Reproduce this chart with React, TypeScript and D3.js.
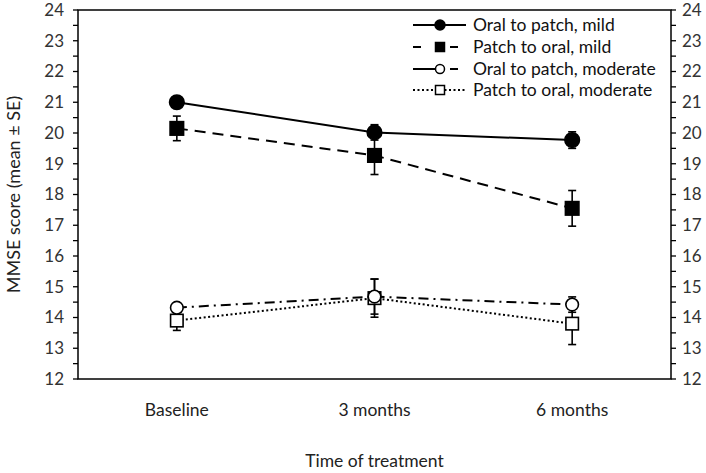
import React from "react";
import * as d3 from "d3";

const categories = ["Baseline", "3 months", "6 months"];
const seriesNames = [
  "Oral to patch, mild",
  "Patch to oral, mild",
  "Oral to patch, moderate",
  "Patch to oral, moderate",
];
const oralPatchMild = [21.0, 20.02, 19.77];
const oralPatchMildErr = [0.1, 0.25, 0.27];
const patchOralMild = [20.15, 19.27, 17.55];
const patchOralMildErr = [0.4, 0.62, 0.58];
const oralPatchMod = [14.32, 14.68, 14.42];
const oralPatchModErr = [0.1, 0.57, 0.25];
const patchOralMod = [13.9, 14.63, 13.8];
const patchOralModErr = [0.32, 0.62, 0.68];
const yTicks = [12, 13, 14, 15, 16, 17, 18, 19, 20, 21, 22, 23, 24];

const W = 706, H = 473;
const L = 78, R = 671, T = 10, B = 379;

type S = { name: string; vals: number[]; errs: number[]; dash: string; marker: "circle" | "square"; fill: string; legL: string; legR: string; rStart: number };

const series: S[] = [
  { name: seriesNames[3], vals: patchOralMod, errs: patchOralModErr, dash: "2,2.5", marker: "square", fill: "#fff", legL: "2,2.5", legR: "2,2.5", rStart: 440 },
  { name: seriesNames[2], vals: oralPatchMod, errs: oralPatchModErr, dash: "10,5,2,5", marker: "circle", fill: "#fff", legL: "", legR: "8,20", rStart: 450 },
  { name: seriesNames[1], vals: patchOralMild, errs: patchOralMildErr, dash: "11,7", marker: "square", fill: "#000", legL: "8,30", legR: "8,20", rStart: 450 },
  { name: seriesNames[0], vals: oralPatchMild, errs: oralPatchMildErr, dash: "", marker: "circle", fill: "#000", legL: "", legR: "", rStart: 440 },
];

const font = "Lato, 'Open Sans', sans-serif";

function Marker({ x, y, type, fill, big }: { x: number; y: number; type: string; fill: string; big: boolean }) {
  if (type === "circle") {
    const r = big ? 7.3 : 6.3;
    return <circle cx={x} cy={y} r={r} fill={fill} stroke="#000" strokeWidth={1.6} />;
  }
  const s = big ? 13.5 : 12.5;
  return <rect x={x - s / 2} y={y - s / 2} width={s} height={s} fill={fill} stroke="#000" strokeWidth={1.6} />;
}

export default function App() {
  const x = d3.scalePoint<string>().domain(categories).range([L, R]).padding(0.5);
  const y = d3.scaleLinear().domain([12, 24]).range([B, T]);
  const line = d3.line<number>().x((_, i) => x(categories[i])!).y((v) => y(v));
  const minor = d3.range(12.5, 24, 1);
  const legendY = [25, 47, 69, 90];
  const legendOrder = [3, 2, 1, 0];

  return (
    <svg width={W} height={H} style={{ position: "absolute", left: 0, top: 0, background: "#fff" }}>
      <rect x={L} y={T} width={R - L} height={B - T} fill="none" stroke="#000" strokeWidth={1.5} />
      {yTicks.map((t) => (
        <g key={t}>
          <line x1={L - 5} x2={L} y1={y(t)} y2={y(t)} stroke="#000" strokeWidth={1.3} />
          <line x1={R} x2={R + 5} y1={y(t)} y2={y(t)} stroke="#000" strokeWidth={1.3} />
          <text x={64} y={y(t)} dy="0.35em" textAnchor="end" fontFamily={font} fontSize={17} fill="#333">{t}</text>
          <text x={682} y={y(t)} dy="0.35em" textAnchor="start" fontFamily={font} fontSize={17} fill="#333">{t}</text>
        </g>
      ))}
      {minor.map((t) => (
        <g key={t}>
          <line x1={L - 5} x2={L} y1={y(t)} y2={y(t)} stroke="#000" strokeWidth={1.3} />
          <line x1={R} x2={R + 5} y1={y(t)} y2={y(t)} stroke="#000" strokeWidth={1.3} />
        </g>
      ))}
      {categories.map((c) => (
        <text key={c} x={x(c)} y={416} textAnchor="middle" fontFamily={font} fontSize={17.5} fill="#222">{c}</text>
      ))}
      <text x={(L + R) / 2} y={467} textAnchor="middle" fontFamily={font} fontSize={17.5} fill="#222">Time of treatment</text>
      <text transform={`translate(20,${(T + B) / 2}) rotate(-90)`} textAnchor="middle" fontFamily={font} fontSize={18} fill="#222">MMSE score (mean ± SE)</text>

      {series.map((s) => (
        <path key={s.name + "l"} d={line(s.vals)!} fill="none" stroke="#000" strokeWidth={2} strokeDasharray={s.dash} />
      ))}
      {series.map((s) => (
        <g key={s.name + "e"}>
          {s.vals.map((v, i) => {
            const cx = x(categories[i])!;
            return (
              <g key={i}>
                <line x1={cx} x2={cx} y1={y(v - s.errs[i])} y2={y(v + s.errs[i])} stroke="#000" strokeWidth={1.6} />
                <line x1={cx - 4} x2={cx + 4} y1={y(v - s.errs[i])} y2={y(v - s.errs[i])} stroke="#000" strokeWidth={1.6} />
                <line x1={cx - 4} x2={cx + 4} y1={y(v + s.errs[i])} y2={y(v + s.errs[i])} stroke="#000" strokeWidth={1.6} />
              </g>
            );
          })}
        </g>
      ))}
      {series.map((s) => (
        <g key={s.name + "m"}>
          {s.vals.map((v, i) => (
            <Marker key={i} x={x(categories[i])!} y={y(v)} type={s.marker} fill={s.fill} big={s.fill === "#000"} />
          ))}
        </g>
      ))}

      {legendOrder.map((si, k) => {
        const s = series[si];
        const ly = legendY[k];
        return (
          <g key={s.name + "leg"}>
            <line x1={413} x2={440} y1={ly} y2={ly} stroke="#000" strokeWidth={2} strokeDasharray={s.legL} />
            <line x1={s.rStart} x2={466} y1={ly} y2={ly} stroke="#000" strokeWidth={2} strokeDasharray={s.legR} />
            {s.marker === "circle" ? (
              <circle cx={440} cy={ly} r={s.fill === "#000" ? 5 : 4.5} fill={s.fill} stroke="#000" strokeWidth={1.5} />
            ) : (
              <rect x={440 - 4.5} y={ly - 4.5} width={9} height={9} fill={s.fill} stroke="#000" strokeWidth={1.5} />
            )}
            <text x={473} y={ly} dy="0.35em" fontFamily={font} fontSize={17.5} fill="#111">{s.name}</text>
          </g>
        );
      })}
    </svg>
  );
}
